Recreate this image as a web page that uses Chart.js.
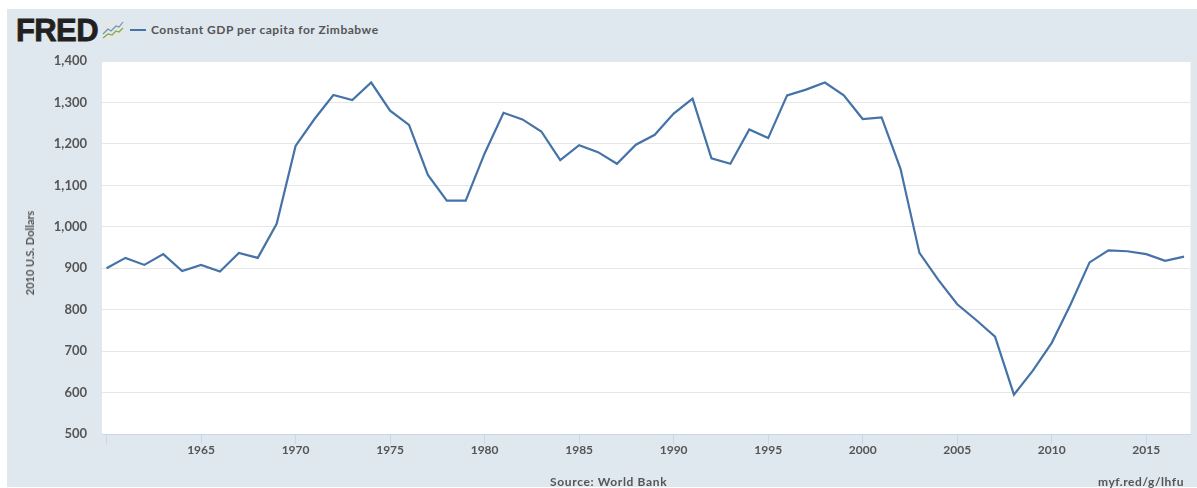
<!DOCTYPE html>
<html>
<head>
<meta charset="utf-8">
<title>Constant GDP per capita for Zimbabwe</title>
<script src="https://cdn.jsdelivr.net/npm/chart.js@4"></script>
<style>
    html, body { margin: 0; padding: 0; background: #fff; overflow: hidden; }
    #wrap { position: relative; width: 1197px; height: 488px; overflow: hidden; font-family: Lato, sans-serif; }
    #panel { position: absolute; left: 7px; top: 9px; right: 0; height: 478px; background: #dfe7ef; }
    #chart { position: absolute; left: 0; top: 0; }
    .txt { position: absolute; white-space: nowrap; color: #555; font-weight: 700; }
    #logo { left: 16px; top: 14px; font: 700 31px/34px "Liberation Sans", sans-serif; letter-spacing: -0.6px; color: #231f20; -webkit-text-stroke: 0.8px #231f20; }
    #icon { position: absolute; left: 102px; top: 20px; }
    #swatch { position: absolute; left: 130px; top: 29px; width: 16px; height: 2px; background: #4572a7; }
    #legend { left: 151px; top: 22px; font-size: 12px; line-height: 16px; letter-spacing: 0.52px; }
    #source { left: 550px; top: 474px; font-size: 12px; line-height: 15px; letter-spacing: 0.65px; }
    #link { right: 13px; top: 474px; font-size: 12px; line-height: 15px; letter-spacing: 0.55px; }
    #ytitle { left: 30px; top: 253px; font-size: 11px; line-height: 14px; transform: translate(-50%, -50%) rotate(-90deg); }
</style>
</head>
<body>
<div id="wrap">
    <div id="panel"></div>
    <div class="txt" id="logo">FRED</div>
    <svg id="icon" width="22" height="21" viewBox="0 0 22 21">
        <rect width="22" height="21" rx="2" fill="#e4e7e8"/>
        <polyline points="1,14 6,9 9,11 14,6 17,7 21,2" fill="none" stroke="#6f93b8" stroke-width="1.2"/>
        <polyline points="1,18 6,14 10,15 14,11 17,12 21,8" fill="none" stroke="#84a845" stroke-width="1.2"/>
    </svg>
    <div id="swatch"></div>
    <div class="txt" id="legend">Constant GDP per capita for Zimbabwe</div>
    <canvas id="chart" width="1197" height="488"></canvas>
    <div class="txt" id="ytitle">2010 U.S. Dollars</div>
    <div class="txt" id="source">Source: World Bank</div>
    <div class="txt" id="link">myf.red/g/lhfu</div>
</div>
<script>
const years = [
    1960, 1961, 1962, 1963, 1964, 1965, 1966, 1967, 1968, 1969,
    1970, 1971, 1972, 1973, 1974, 1975, 1976, 1977, 1978, 1979,
    1980, 1981, 1982, 1983, 1984, 1985, 1986, 1987, 1988, 1989,
    1990, 1991, 1992, 1993, 1994, 1995, 1996, 1997, 1998, 1999,
    2000, 2001, 2002, 2003, 2004, 2005, 2006, 2007, 2008, 2009,
    2010, 2011, 2012, 2013, 2014, 2015, 2016, 2017,
];
const gdpPerCapita = [
    900, 925, 908, 934, 893, 908, 892, 937, 925, 1007,
    1195, 1260, 1318, 1306, 1348, 1280, 1246, 1125, 1063, 1063,
    1177, 1275, 1259, 1230, 1161, 1197, 1180, 1152, 1198, 1222,
    1273, 1309, 1165, 1152, 1235, 1214, 1317, 1331, 1348, 1317,
    1260, 1264, 1140, 937, 872, 813, 775, 735, 595, 653,
    720, 813, 914, 943, 941, 934, 918, 928,
];
const xTicks = [1960, 1965, 1970, 1975, 1980, 1985, 1990, 1995, 2000, 2005, 2010, 2015];
const yTicks = [500, 600, 700, 800, 900, 1000, 1100, 1200, 1300, 1400];

const TEXT_COLOR = '#555';
const TICK_FONT = { family: 'Lato, sans-serif', size: 12, weight: '700' };

// white plot area on top of the blue-grey panel
const plotBackground = {
    id: 'plotBackground',
    beforeDraw(chart) {
        const a = chart.chartArea;
        chart.ctx.save();
        chart.ctx.fillStyle = '#fff';
        chart.ctx.fillRect(a.left, a.top, a.right - a.left, a.bottom - a.top);
        chart.ctx.restore();
    },
};

new Chart(document.getElementById('chart'), {
    type: 'line',
    data: {
        datasets: [{
            label: 'Constant GDP per capita for Zimbabwe',
            data: years.map((y, i) => ({ x: y, y: gdpPerCapita[i] })),
            borderColor: '#4572a7',
            borderWidth: 2.2,
            pointRadius: 0,
            tension: 0,
        }],
    },
    options: {
        responsive: false,
        animation: false,
        layout: { padding: { top: 61, right: 6.5, bottom: 0, left: 0 } },
        plugins: { legend: { display: false }, tooltip: { enabled: false } },
        scales: {
            x: {
                type: 'linear',
                min: 1959.76,
                max: 2017.34,
                afterBuildTicks: axis => { axis.ticks = xTicks.map(v => ({ value: v })); },
                afterFit: axis => { axis.height = 54; },
                grid: { drawOnChartArea: false, color: '#ccd6eb', tickLength: 10 },
                border: { color: '#ccd6eb' },
                ticks: {
                    autoSkip: false,
                    maxRotation: 0,
                    padding: -1,
                    color: TEXT_COLOR,
                    font: TICK_FONT,
                    callback: v => (v === 1960 ? '' : String(v)),
                },
            },
            y: {
                min: 500,
                max: 1400,
                afterBuildTicks: axis => { axis.ticks = yTicks.map(v => ({ value: v })); },
                afterFit: axis => { axis.width = 102; },
                grid: { color: '#e6e6e6', tickLength: 0 },
                border: { display: false },
                ticks: {
                    padding: 15,
                    color: TEXT_COLOR,
                    font: { family: 'Lato, sans-serif', size: 13, weight: '700' },
                    callback: v => v.toLocaleString('en-US'),
                },
            },
        },
    },
    plugins: [plotBackground],
});
</script>
</body>
</html>
